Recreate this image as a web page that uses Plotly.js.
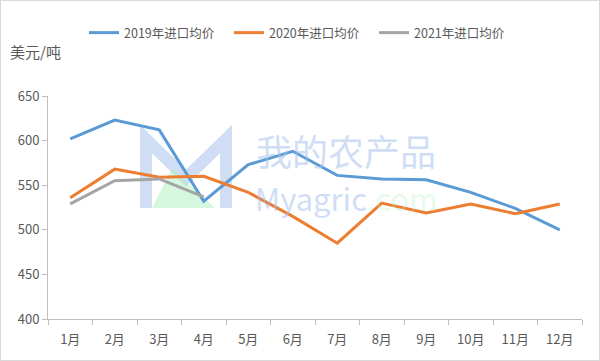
<!DOCTYPE html>
<html><head><meta charset="utf-8">
<script src="https://cdn.plot.ly/plotly-3.0.1.min.js"></script>
<style>html,body{margin:0;padding:0;background:#fff}#c{width:598px;height:359px;border:1px solid #D9D9D9}</style>
</head><body><div id="c"></div>
<script>
const months = ['1月','2月','3月','4月','5月','6月','7月','8月','9月','10月','11月','12月'];
const price2019 = [602, 623, 612, 532, 573, 588, 561, 557, 556, 542, 524, 500];
const price2020 = [536, 568, 559, 560, 542, 515, 485, 530, 519, 529, 518, 529];
const price2021 = [529, 555, 557, 537];
const names = ['2019年进口均价','2020年进口均价','2021年进口均价'];

const W=598,H=359,L=47,R=17,T=95,B=41;
const pw=W-L-R, ph=H-T-B;
const px=x=>(x-1-L)/pw, py=y=>(H-(y-1)-B)/ph;
const font="'Noto Sans CJK SC', 'Microsoft YaHei', sans-serif";

const mk=(y,name,color)=>({x:months.slice(0,y.length),y:y,name:name,type:'scatter',mode:'lines',
  line:{color:color,width:3}});
const data=[mk(price2019,names[0],'#5B9BD5'),mk(price2020,names[1],'#ED7D31'),mk(price2021,names[2],'#A5A5A5')];

const wm='rgba(160,190,235,0.5)';
const layout={
  width:W,height:H,margin:{l:L,r:R,t:T,b:B},
  paper_bgcolor:'#fff',plot_bgcolor:'rgba(0,0,0,0)',
  font:{family:font,size:12,color:'#595959'},
  showlegend:true,
  legend:{orientation:'h',x:px(84),xanchor:'left',y:py(33),yanchor:'middle',
    font:{size:12.5,color:'#595959'},itemwidth:30,tracegroupgap:0,entrywidth:100,bgcolor:'rgba(0,0,0,0)'},
  xaxis:{type:'category',categoryorder:'array',categoryarray:months,range:[-0.5,11.5],
    showline:true,linecolor:'#BFBFBF',linewidth:1,ticks:'outside',tickson:'boundaries',ticklen:5,tickcolor:'#BFBFBF',
    ticklabelstandoff:8,
    showgrid:false,zeroline:false,tickfont:{size:13,color:'#595959'},fixedrange:true},
  yaxis:{range:[400,650],dtick:50,showline:true,linecolor:'#BFBFBF',linewidth:1,ticks:'outside',ticklen:5,tickcolor:'#BFBFBF',
    showgrid:false,zeroline:false,tickfont:{size:13,color:'#595959'},fixedrange:true},
  annotations:[
    {text:'美元/吨',xref:'paper',yref:'paper',x:px(8),y:py(51),xanchor:'left',yanchor:'middle',showarrow:false,
     font:{size:15,color:'#595959',family:font}},
    {text:'我的农产品',xref:'paper',yref:'paper',x:px(346),y:py(150),xanchor:'center',yanchor:'middle',showarrow:false,
     font:{size:36,color:wm,family:font}},
    {text:'Myagric<span style="color:rgba(170,240,190,0.6)">.com</span>',xref:'paper',yref:'paper',x:px(346),y:py(197),xanchor:'center',yanchor:'middle',showarrow:false,
     font:{size:31,color:wm,family:font}}
  ],
  shapes:[
    {type:'path',xref:'paper',yref:'paper',layer:'below',
     path:`M ${px(146)} ${py(208)} L ${px(146)} ${py(139)} L ${px(186)} ${py(178)} L ${px(226)} ${py(139)} L ${px(226)} ${py(208)}`,
     line:{color:wm,width:12},fillcolor:'rgba(0,0,0,0)'},
    {type:'path',xref:'paper',yref:'paper',layer:'below',
     path:`M ${px(152)} ${py(208)} L ${px(172)} ${py(168)} L ${px(215)} ${py(208)} Z`,
     line:{color:'rgba(170,240,190,0.5)',width:0},fillcolor:'rgba(170,240,190,0.5)'}
  ]
};
Plotly.newPlot('c',data,layout,{displayModeBar:false,staticPlot:true});
</script></body></html>
